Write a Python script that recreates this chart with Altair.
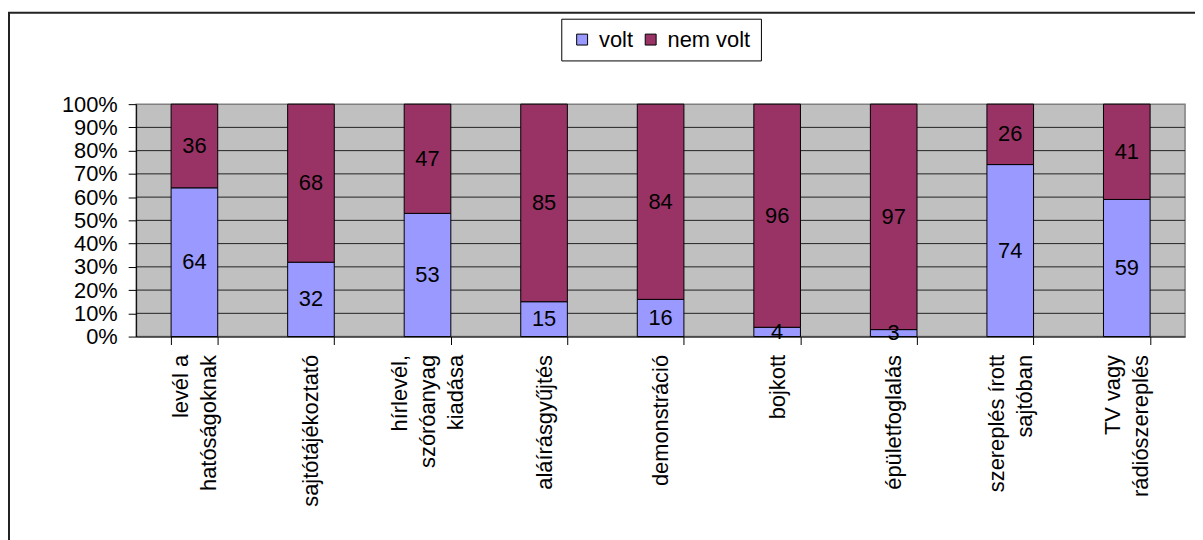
import altair as alt
import pandas as pd

categories = [
    "levél a|hatóságoknak",
    "sajtótájékoztató",
    "hírlevél,|szóróanyag|kiadása",
    "aláírásgyűjtés",
    "demonstráció",
    "bojkott",
    "épületfoglalás",
    "szereplés írott|sajtóban",
    "TV vagy|rádiószereplés",
]
volt = [64, 32, 53, 15, 16, 4, 3, 74, 59]
nem_volt = [36, 68, 47, 85, 84, 96, 97, 26, 41]
series = ["volt", "nem volt"]
colors = ["#9999FF", "#993366"]
y_ticks = [0, 0.1, 0.2, 0.3, 0.4, 0.5, 0.6, 0.7, 0.8, 0.9, 1.0]
grid_lines = [0.1, 0.2, 0.3, 0.4, 0.5, 0.6, 0.7, 0.8, 0.9]

rows = []
for c, a, b in zip(categories, volt, nem_volt):
    rows.append({"category": c, "series": "volt", "order": 0, "value": a})
    rows.append({"category": c, "series": "nem volt", "order": 1, "value": b})
df = pd.DataFrame(rows)

FONT = "Liberation Sans"
FS = 22
LH = 28
W, H = 1056, 234

base = alt.Chart(df).transform_stack(
    stack="value",
    as_=["v0", "v1"],
    groupby=["category"],
    sort=[alt.SortField("order", order="ascending")],
    offset="normalize",
).transform_calculate(mid="(datum.v0 + datum.v1) / 2")

x_axis = alt.Axis(
    title=None,
    labelAngle=-90,
    labelAlign="right",
    labelBaseline="middle",
    labelPadding=10,
    labelFont=FONT,
    labelFontSize=FS,
    labelLineHeight=LH,
    labelColor="black",
    labelExpr="split(datum.label, '|')",
    labelOffset={
        "condition": [
            {"test": "length(split(datum.value, '|')) == 3", "value": -LH},
            {"test": "length(split(datum.value, '|')) == 2", "value": -LH / 2},
        ],
        "value": 0,
    },
    labelOverlap=False,
    tickBand="extent",
    tickSize=8,
    tickColor="black",
    domainColor="black",
    grid=False,
    zindex=2,
)
x_scale = alt.Scale(paddingInner=0.6, paddingOuter=0.3)

y_axis = alt.Axis(
    title=None,
    values=y_ticks,
    format=".0%",
    labelFont=FONT,
    labelFontSize=FS,
    labelColor="black",
    labelPadding=11,
    labelOverlap=False,
    tickSize=8,
    tickColor="black",
    domainColor="black",
    grid=False,
    zindex=2,
)
y_scale = alt.Scale(domain=[0, 1], nice=False)

background = alt.Chart(pd.DataFrame({"a": [0]})).mark_rect(
    color="#C0C0C0", stroke="#808080", strokeWidth=1.5
).encode(
    x=alt.value(0), x2=alt.value(W), y=alt.value(0), y2=alt.value(H)
)

grid = alt.Chart(pd.DataFrame({"g": grid_lines})).mark_rule(
    color="#222222", strokeWidth=1
).encode(
    x=alt.value(0),
    x2=alt.value(W),
    y=alt.Y("g:Q", scale=y_scale, axis=y_axis),
)

bars = base.mark_bar(stroke="black", strokeWidth=1).encode(
    x=alt.X("category:N", sort=categories, scale=x_scale, axis=x_axis),
    y=alt.Y("v0:Q", scale=y_scale, axis=y_axis),
    y2="v1:Q",
    color=alt.Color(
        "series:N",
        scale=alt.Scale(domain=series, range=colors),
        legend=alt.Legend(
            title=None,
            orient="none",
            legendX=428,
            legendY=-86,
            direction="horizontal",
            strokeColor="black",
            fillColor="white",
            padding=10,
            symbolType="square",
            symbolSize=121,
            symbolStrokeColor="black",
            symbolStrokeWidth=1,
            symbolOpacity=1,
            labelFont=FONT,
            labelFontSize=FS,
            labelColor="black",
            labelOffset=6,
            columnPadding=6,
        ),
    ),
)

labels = base.mark_text(
    font=FONT, fontSize=FS, color="black", align="center", baseline="middle"
).encode(
    x=alt.X("category:N", sort=categories, scale=x_scale, axis=x_axis),
    y=alt.Y("mid:Q", scale=y_scale, axis=y_axis),
    text=alt.Text("value:Q"),
)

frame = alt.Chart(pd.DataFrame({"a": [0]})).mark_rect(
    fillOpacity=0, stroke="#222222", strokeWidth=2
).encode(
    x=alt.value(-128),
    x2=alt.value(1100),
    y=alt.value(-92),
    y2=alt.value(500),
)

chart = (
    alt.layer(background, grid, bars, labels, frame)
    .properties(
        width=W,
        height=H,
        autosize=alt.AutoSizeParams(type="none"),
        padding={"left": 129, "top": 95, "right": 10, "bottom": 203},
        background="white",
    )
    .configure_view(strokeWidth=0)
)

chart.save("out.html", embed_options={"renderer": "svg", "actions": False})
